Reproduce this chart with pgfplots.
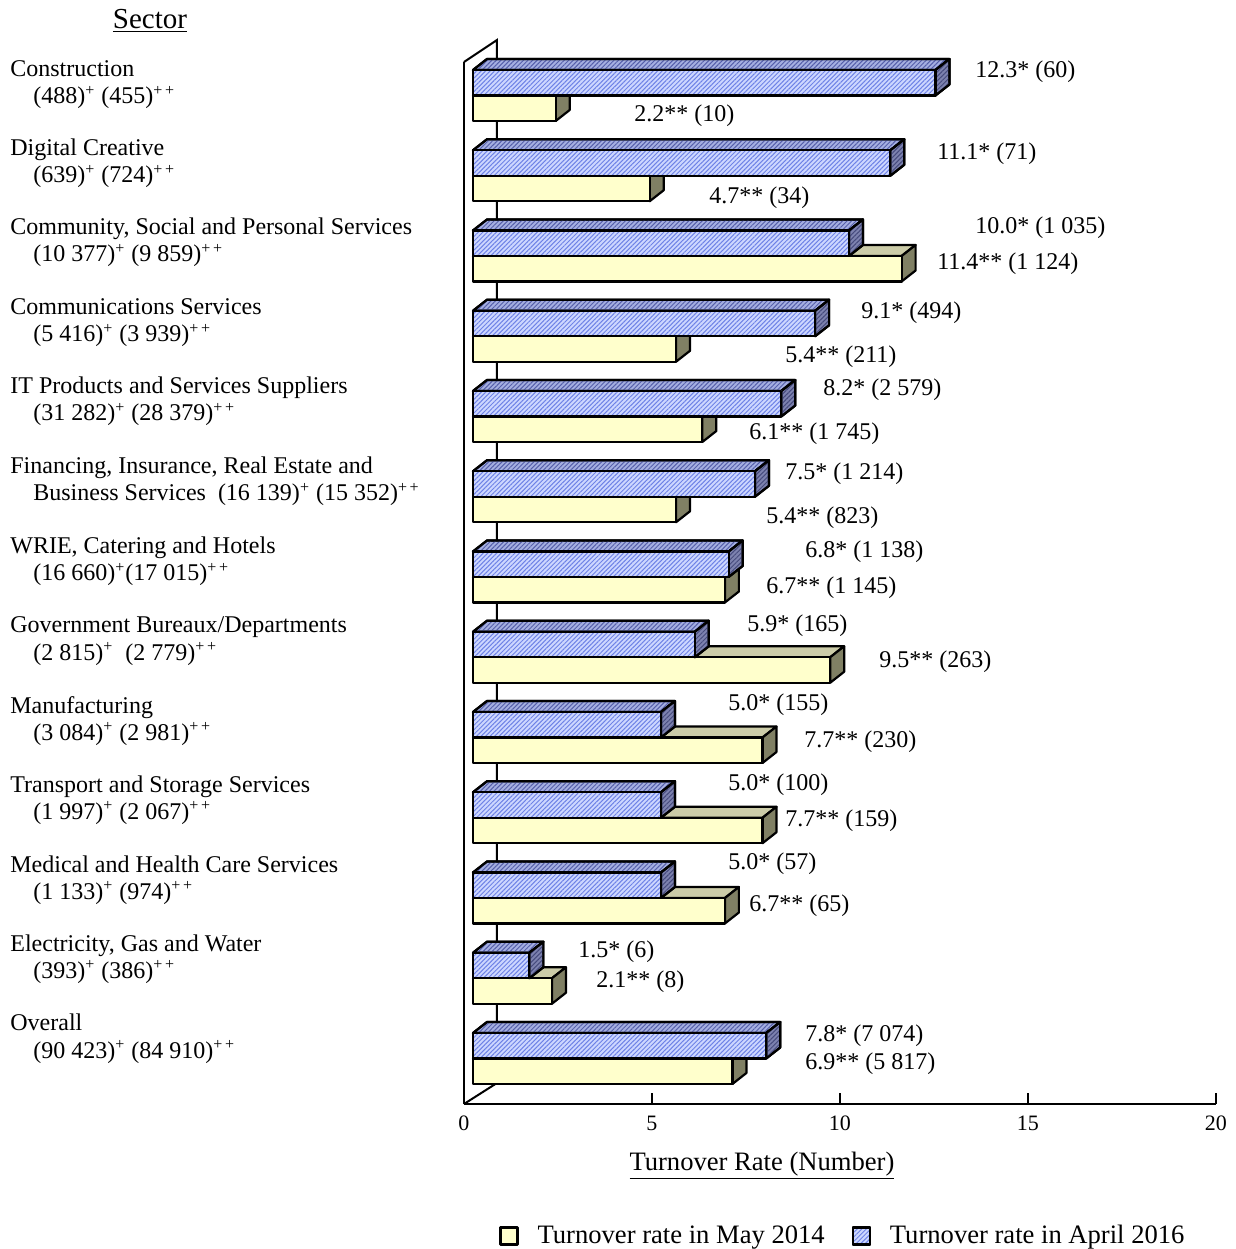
\documentclass[border=0pt]{standalone}
\usepackage{fontspec}
\setmainfont{Liberation Serif}
\usepackage{pgfplots}
\pgfplotsset{compat=1.18}
\usetikzlibrary{patterns.meta}
\definecolor{bluebase}{RGB}{205,215,255}
\definecolor{bluehatch}{RGB}{110,130,230}
\definecolor{bluetopbase}{RGB}{165,175,225}
\definecolor{bluetophatch}{RGB}{85,95,170}
\definecolor{bluesidebase}{RGB}{125,130,175}
\definecolor{bluesidehatch}{RGB}{70,75,125}
\definecolor{yfront}{RGB}{255,255,204}
\definecolor{ytop}{RGB}{204,204,168}
\definecolor{yside}{RGB}{128,128,100}
\tikzset{
 face/.style={draw=black,line width=1.1pt,line join=round},
 yfrontS/.style={face,fill=yfront},
 ytopS/.style={face,fill=ytop},
 ysideS/.style={face,fill=yside},
 bfrontS/.style={face,preaction={fill=bluebase},pattern={Lines[angle=45,distance=1.6pt,line width=0.5pt]},pattern color=bluehatch},
 btopS/.style={face,preaction={fill=bluetopbase},pattern={Lines[angle=45,distance=1.6pt,line width=0.5pt]},pattern color=bluetophatch},
 bsideS/.style={face,preaction={fill=bluesidebase},pattern={Lines[angle=45,distance=1.6pt,line width=0.5pt]},pattern color=bluesidehatch},
}
\newcommand\lbl{\fontsize{12}{14}\selectfont}
\newcommand\lab[3]{\node[anchor=west,inner sep=0pt,font=\lbl] at ({(#1-464)/37.6},{-#2}) {#3};}
\newcommand\labb[3]{\node[anchor=base west,inner sep=0pt,font=\lbl] at ({(#1-464)/37.6},{-#2}) {#3};}
\newcommand\supA{\textsuperscript{+}}
\newcommand\supB{\textsuperscript{+\,+}}
\begin{document}
\begin{tikzpicture}
\begin{axis}[
 x=18.8pt, y=0.5pt,
 xmin=0, xmax=20, ymin=-1104, ymax=-40,
 axis x line*=bottom, axis y line=none,
 axis line style={-,line width=1pt},
 xtick={0,5,10,15,20}, tick align=inside, major tick length=5.5pt,
 tick style={line width=1pt,black},
 xticklabel style={font=\fontsize{11}{13}\selectfont, yshift=-2.5pt},
 /pgf/number format/assume math mode=true,
 clip=false,
 legend columns=2,
 legend cell align=left,
 legend style={at={(axis cs:0.931,-1236)}, anchor=west, draw=none, fill=none, inner sep=0pt,
   font=\fontsize{13.3}{15}\selectfont,
   /tikz/every odd column/.append style={column sep=7.5pt},
   /tikz/every even column/.append style={column sep=11.5pt}},
 legend image code/.code={\draw[#1] (0pt,-4.25pt) rectangle (8.5pt,4.25pt);},
]
\addlegendimage{yfrontS}
\addlegendentry{Turnover rate in May 2014}
\addlegendimage{bfrontS}
\addlegendentry{Turnover rate in April 2016}
% picture extent
\coordinate (BBa) at (-12.34,-1249);
\coordinate (BBb) at (20.53,0);
% wall and floor
\draw[line width=1pt] (0,-62) -- (0,-1104);
\draw[line width=1pt] (0,-62) -- ({(497-464)/37.6},-40) -- ({(497-464)/37.6},-1083) -- (0,-1104);
% bars: index / April 2016 / May 2014
\foreach \i/\vb/\vy in {0/12.3/2.2,1/11.1/4.7,2/10.0/11.4,3/9.1/5.4,4/8.2/6.1,5/7.5/5.4,6/6.8/6.7,7/5.9/9.5,8/5.0/7.7,9/5.0/7.7,10/5.0/6.7,11/1.5/2.1,12/7.8/6.9}{
 \pgfmathsetmacro\T{-(70+80.25*\i)}
 \pgfmathsetmacro\M{\T-25.5}
 \pgfmathsetmacro\B{\T-51}
 \pgfmathsetmacro\Td{\T+11}
 \pgfmathsetmacro\Md{\M+11}
 \pgfmathsetmacro\Bd{\B+11}
 \pgfmathsetmacro\xa{0.2394}
 \pgfmathsetmacro\xad{0.2394+0.3723}
 \pgfmathsetmacro\xb{\vb+0.2394}
 \pgfmathsetmacro\xbd{\xb+0.3723}
 \pgfmathsetmacro\xy{\vy+0.2394}
 \pgfmathsetmacro\xyd{\xy+0.3723}
 \edef\tmp{
  \noexpand\addplot[ytopS,forget plot] coordinates {(\xa,\M) (\xy,\M) (\xyd,\Md) (\xad,\Md)} -- cycle;
  \noexpand\addplot[ysideS,forget plot] coordinates {(\xy,\M) (\xyd,\Md) (\xyd,\Bd) (\xy,\B)} -- cycle;
  \noexpand\addplot[yfrontS,forget plot] coordinates {(\xa,\M) (\xy,\M) (\xy,\B) (\xa,\B)} -- cycle;
  \noexpand\addplot[btopS,forget plot] coordinates {(\xa,\T) (\xb,\T) (\xbd,\Td) (\xad,\Td)} -- cycle;
  \noexpand\addplot[bsideS,forget plot] coordinates {(\xb,\T) (\xbd,\Td) (\xbd,\Md) (\xb,\M)} -- cycle;
  \noexpand\addplot[bfrontS,forget plot] coordinates {(\xa,\T) (\xb,\T) (\xb,\M) (\xa,\M)} -- cycle;
 }
 \tmp
}
% value labels
\lab{975}{72}{12.3* (60)}
\lab{634}{116}{2.2** (10)}
\lab{937}{154}{11.1* (71)}
\lab{709}{198}{4.7** (34)}
\lab{975}{228}{10.0* (1 035)}
\lab{937}{264}{11.4** (1 124)}
\lab{861}{313}{9.1* (494)}
\lab{785}{357}{5.4** (211)}
\lab{823}{390}{8.2* (2 579)}
\lab{749}{434}{6.1** (1 745)}
\lab{785}{474}{7.5* (1 214)}
\lab{766}{518}{5.4** (823)}
\lab{805}{552}{6.8* (1 138)}
\lab{766}{588}{6.7** (1 145)}
\lab{747}{626}{5.9* (165)}
\lab{879}{662}{9.5** (263)}
\lab{728}{705}{5.0* (155)}
\lab{804}{742}{7.7** (230)}
\lab{728}{785}{5.0* (100)}
\lab{785}{821}{7.7** (159)}
\lab{728}{864}{5.0* (57)}
\lab{749}{906}{6.7** (65)}
\lab{578}{952}{1.5* (6)}
\lab{596}{982}{2.1** (8)}
\lab{805}{1036}{7.8* (7 074)}
\lab{805}{1064}{6.9** (5 817)}
% sector labels
\labb{10}{77}{Construction}
\labb{33}{104}{(488)\supA{} (455)\supB}
\labb{10}{156}{Digital Creative}
\labb{33}{183}{(639)\supA{} (724)\supB}
\labb{10}{235}{Community, Social and Personal Services}
\labb{33}{262}{(10 377)\supA{} (9 859)\supB}
\labb{10}{315}{Communications Services}
\labb{33}{342}{(5 416)\supA{} (3 939)\supB}
\labb{10}{394}{IT Products and Services Suppliers}
\labb{33}{421}{(31 282)\supA{} (28 379)\supB}
\labb{10}{474}{Financing, Insurance, Real Estate and}
\labb{33}{501}{Business Services\ \ (16 139)\supA{} (15 352)\supB}
\labb{10}{554}{WRIE, Catering and Hotels}
\labb{33}{581}{(16 660)\supA(17 015)\supB}
\labb{10}{633}{Government Bureaux/Departments}
\labb{33}{660}{(2 815)\supA\ \ (2 779)\supB}
\labb{10}{713}{Manufacturing}
\labb{33}{740}{(3 084)\supA{} (2 981)\supB}
\labb{10}{792}{Transport and Storage Services}
\labb{33}{819}{(1 997)\supA{} (2 067)\supB}
\labb{10}{872}{Medical and Health Care Services}
\labb{33}{899}{(1 133)\supA{} (974)\supB}
\labb{10}{951}{Electricity, Gas and Water}
\labb{33}{978}{(393)\supA{} (386)\supB}
\labb{10}{1030}{Overall}
\labb{33}{1058}{(90 423)\supA{} (84 910)\supB}
% titles
\node[font=\fontsize{14.5}{16}\selectfont,inner sep=0pt] at ({(150-464)/37.6},-21) {\underline{Sector}};
\node[font=\fontsize{13.3}{15}\selectfont,inner sep=0pt] at ({(762-464)/37.6},-1166) {\underline{Turnover Rate (Number)}};
\end{axis}
\pgfresetboundingbox
\path[use as bounding box] (BBa) rectangle (BBb);
\end{tikzpicture}
\end{document}
